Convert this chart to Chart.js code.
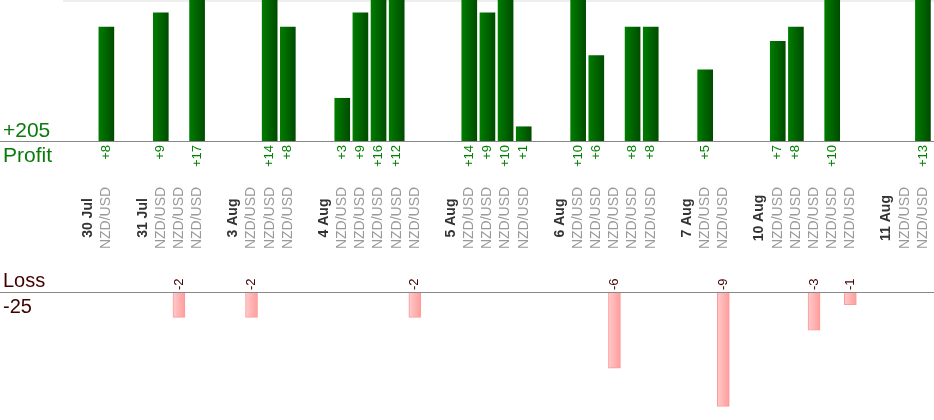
<!DOCTYPE html>
<html>
<head>
<meta charset="utf-8">
<title>NZD/USD profit and loss</title>
<script src="https://cdn.jsdelivr.net/npm/chart.js@4.4.1/dist/chart.umd.min.js"></script>
<style>
  html, body { margin: 0; padding: 0; background: #fff; }
  #wrap { position: relative; width: 934px; height: 420px; overflow: hidden; }
  #profit-chart { position: absolute; left: 0; top: 0; }
  #loss-chart { position: absolute; left: 0; top: 262px; }
</style>
</head>
<body>
<div id="wrap">
  <canvas id="profit-chart" width="934" height="262"></canvas>
  <canvas id="loss-chart" width="934" height="158"></canvas>
</div>
<script>
const PAIR = "NZD/USD";

// one slot per trade, a day label slot before them and a spacer before each day
const categories = [
  "", "30 Jul", PAIR,
  "", "31 Jul", PAIR, PAIR, PAIR,
  "", "3 Aug", PAIR, PAIR, PAIR,
  "", "4 Aug", PAIR, PAIR, PAIR, PAIR, PAIR,
  "", "5 Aug", PAIR, PAIR, PAIR, PAIR,
  "", "6 Aug", PAIR, PAIR, PAIR, PAIR, PAIR,
  "", "7 Aug", PAIR, PAIR,
  "", "10 Aug", PAIR, PAIR, PAIR, PAIR, PAIR,
  "", "11 Aug", PAIR, PAIR,
];

const profitValues = [
  null, null, 8,
  null, null, 9, null, 17,
  null, null, null, 14, 8,
  null, null, 3, 9, 16, 12, null,
  null, null, 14, 9, 10, 1,
  null, null, 10, 6, null, 8, 8,
  null, null, 5, null,
  null, null, 7, 8, null, 10, null,
  null, null, null, 13,
];

const lossValues = [
  null, null, null,
  null, null, null, -2, null,
  null, null, -2, null, null,
  null, null, null, null, null, null, -2,
  null, null, null, null, null, null,
  null, null, null, null, -6, null, null,
  null, null, null, -9,
  null, null, null, null, -3, null, -1,
  null, null, null, null,
];

const profitTotal = profitValues.reduce((s, v) => s + (v || 0), 0);
const lossTotal = lossValues.reduce((s, v) => s + (v || 0), 0);

const FONT = "'Liberation Sans', Arial, sans-serif";

// horizontal gradient across a single bar
function barGradient(context, from, to, width) {
  const chart = context.chart;
  if (!chart.chartArea || context.dataIndex === undefined) return to;
  const x = chart.scales.x.getPixelForValue(context.dataIndex);
  const g = chart.ctx.createLinearGradient(x - width / 2, 0, x + width / 2, 0);
  g.addColorStop(0, from);
  g.addColorStop(1, to);
  return g;
}

function drawBaseline(chart, y) {
  const ctx = chart.ctx;
  ctx.strokeStyle = "#888888";
  ctx.lineWidth = 1;
  ctx.beginPath();
  ctx.moveTo(0, Math.round(y) + 0.5);
  ctx.lineTo(chart.width, Math.round(y) + 0.5);
  ctx.stroke();
}

// rotated text, reading bottom to top
function drawVertical(ctx, text, x, y, align) {
  ctx.save();
  ctx.translate(x, 0);
  ctx.rotate(-Math.PI / 2);
  ctx.textAlign = align;
  ctx.textBaseline = "middle";
  ctx.fillText(text, -y, 0);
  ctx.restore();
}

const profitLabels = {
  id: "profitLabels",
  beforeDatasetsDraw(chart) {
    const { ctx, chartArea } = chart;
    ctx.save();
    ctx.fillStyle = "#eeeeee";
    ctx.fillRect(chartArea.left + 2, 0, chartArea.right - chartArea.left, 2);
    ctx.restore();
  },
  afterDraw(chart) {
    const ctx = chart.ctx;
    const xScale = chart.scales.x;
    const base = chart.scales.y.getPixelForValue(0);
    ctx.save();
    drawBaseline(chart, base);

    ctx.fillStyle = "#0a7a0a";
    ctx.font = "21px " + FONT;
    ctx.textAlign = "left";
    ctx.textBaseline = "alphabetic";
    ctx.fillText("+" + profitTotal, 3, base - 4);
    ctx.fillText("Profit", 3, base + 21);

    categories.forEach((label, i) => {
      const px = xScale.getPixelForValue(i);
      const v = profitValues[i];
      if (v !== null) {
        ctx.fillStyle = "#008000";
        ctx.font = "13px " + FONT;
        drawVertical(ctx, "+" + v, px, base + 4, "right");
      }
      if (label === PAIR) {
        ctx.fillStyle = "#999999";
        ctx.font = "14px " + FONT;
        drawVertical(ctx, label, px, 218, "center");
      } else if (label) {
        ctx.fillStyle = "#333333";
        ctx.font = "bold 14px " + FONT;
        drawVertical(ctx, label, px, 218, "center");
      }
    });
    ctx.restore();
  },
};

const lossLabels = {
  id: "lossLabels",
  afterDraw(chart) {
    const ctx = chart.ctx;
    const xScale = chart.scales.x;
    const base = chart.scales.y.getPixelForValue(0);
    ctx.save();
    drawBaseline(chart, base);

    ctx.fillStyle = "#400000";
    ctx.font = "20px " + FONT;
    ctx.textAlign = "left";
    ctx.textBaseline = "alphabetic";
    ctx.fillText("Loss", 3, base - 5);
    ctx.fillText(String(lossTotal), 3, base + 21);

    ctx.font = "13px " + FONT;
    lossValues.forEach((v, i) => {
      if (v === null) return;
      drawVertical(ctx, String(v), xScale.getPixelForValue(i), base - 2, "left");
    });
    ctx.restore();
  },
};

function baseOptions(padding, yRange) {
  return {
    responsive: false,
    animation: false,
    layout: { padding: padding },
    plugins: { legend: { display: false }, tooltip: { enabled: false } },
    scales: {
      x: { display: false },
      y: Object.assign({ display: false }, yRange),
    },
  };
}

new Chart(document.getElementById("profit-chart"), {
  type: "bar",
  data: {
    labels: categories,
    datasets: [
      {
        label: "Profit",
        data: profitValues,
        barThickness: 15,
        backgroundColor: (c) => barGradient(c, "#007c00", "#004c00", 15),
        borderWidth: 0,
        clip: false,
      },
    ],
  },
  options: baseOptions({ left: 61, right: 2, top: 0, bottom: 121 }, { min: 0, max: 9.9 }),
  plugins: [profitLabels],
});

new Chart(document.getElementById("loss-chart"), {
  type: "bar",
  data: {
    labels: categories,
    datasets: [
      {
        label: "Loss",
        data: lossValues,
        barThickness: 12,
        backgroundColor: (c) => barGradient(c, "#ffcaca", "#ff9c9c", 12),
        borderColor: "#ff9a9a",
        borderWidth: 1,
        clip: false,
      },
    ],
  },
  options: baseOptions({ left: 61, right: 2, top: 30, bottom: 1 }, { min: -10, max: 0 }),
  plugins: [lossLabels],
});
</script>
</body>
</html>
